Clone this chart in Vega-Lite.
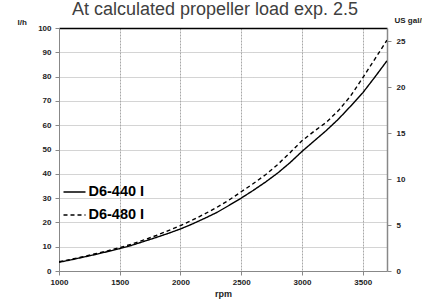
{
  "$schema": "https://vega.github.io/schema/vega-lite/v6.json",
  "width": 328,
  "height": 243,
  "autosize": {"type": "none"},
  "padding": {"left": 59, "top": 28, "right": 35, "bottom": 31},
  "background": "white",
  "config": {
    "view": {"stroke": null},
    "font": "Liberation Sans"
  },
  "title": {
    "text": "At calculated propeller load exp. 2.5",
    "fontSize": 18,
    "font": "Liberation Sans",
    "fontWeight": "normal",
    "color": "#404040",
    "anchor": "middle",
    "frame": "group",
    "baseline": "alphabetic",
    "offset": 0,
    "dy": 17,
    "dx": -8
  },
  "data": {
    "values": [
      {"engine": "D6-440 I", "rpm": 1000, "lph": 3.6},
      {"engine": "D6-440 I", "rpm": 1100, "lph": 4.6},
      {"engine": "D6-440 I", "rpm": 1200, "lph": 5.7},
      {"engine": "D6-440 I", "rpm": 1300, "lph": 6.8},
      {"engine": "D6-440 I", "rpm": 1400, "lph": 8.0},
      {"engine": "D6-440 I", "rpm": 1500, "lph": 9.2},
      {"engine": "D6-440 I", "rpm": 1600, "lph": 10.6},
      {"engine": "D6-440 I", "rpm": 1700, "lph": 12.2},
      {"engine": "D6-440 I", "rpm": 1800, "lph": 13.8},
      {"engine": "D6-440 I", "rpm": 1900, "lph": 15.5},
      {"engine": "D6-440 I", "rpm": 2000, "lph": 17.3},
      {"engine": "D6-440 I", "rpm": 2100, "lph": 19.4},
      {"engine": "D6-440 I", "rpm": 2200, "lph": 21.7},
      {"engine": "D6-440 I", "rpm": 2300, "lph": 24.1},
      {"engine": "D6-440 I", "rpm": 2400, "lph": 27.0},
      {"engine": "D6-440 I", "rpm": 2500, "lph": 30.0},
      {"engine": "D6-440 I", "rpm": 2600, "lph": 33.2},
      {"engine": "D6-440 I", "rpm": 2700, "lph": 36.6},
      {"engine": "D6-440 I", "rpm": 2800, "lph": 40.3},
      {"engine": "D6-440 I", "rpm": 2900, "lph": 44.5},
      {"engine": "D6-440 I", "rpm": 3000, "lph": 49.2},
      {"engine": "D6-440 I", "rpm": 3100, "lph": 53.5},
      {"engine": "D6-440 I", "rpm": 3200, "lph": 57.8},
      {"engine": "D6-440 I", "rpm": 3300, "lph": 62.5},
      {"engine": "D6-440 I", "rpm": 3400, "lph": 67.8},
      {"engine": "D6-440 I", "rpm": 3500, "lph": 73.3},
      {"engine": "D6-440 I", "rpm": 3600, "lph": 79.8},
      {"engine": "D6-440 I", "rpm": 3700, "lph": 86.5},
      {"engine": "D6-480 I", "rpm": 1000, "lph": 3.8},
      {"engine": "D6-480 I", "rpm": 1100, "lph": 4.8},
      {"engine": "D6-480 I", "rpm": 1200, "lph": 5.9},
      {"engine": "D6-480 I", "rpm": 1300, "lph": 7.1},
      {"engine": "D6-480 I", "rpm": 1400, "lph": 8.3},
      {"engine": "D6-480 I", "rpm": 1500, "lph": 9.6},
      {"engine": "D6-480 I", "rpm": 1600, "lph": 11.1},
      {"engine": "D6-480 I", "rpm": 1700, "lph": 12.8},
      {"engine": "D6-480 I", "rpm": 1800, "lph": 14.6},
      {"engine": "D6-480 I", "rpm": 1900, "lph": 16.6},
      {"engine": "D6-480 I", "rpm": 2000, "lph": 18.7},
      {"engine": "D6-480 I", "rpm": 2100, "lph": 21.0},
      {"engine": "D6-480 I", "rpm": 2200, "lph": 23.5},
      {"engine": "D6-480 I", "rpm": 2300, "lph": 26.2},
      {"engine": "D6-480 I", "rpm": 2400, "lph": 29.2},
      {"engine": "D6-480 I", "rpm": 2500, "lph": 32.6},
      {"engine": "D6-480 I", "rpm": 2600, "lph": 36.0},
      {"engine": "D6-480 I", "rpm": 2700, "lph": 39.6},
      {"engine": "D6-480 I", "rpm": 2800, "lph": 43.8},
      {"engine": "D6-480 I", "rpm": 2900, "lph": 48.6},
      {"engine": "D6-480 I", "rpm": 3000, "lph": 53.6},
      {"engine": "D6-480 I", "rpm": 3100, "lph": 57.5},
      {"engine": "D6-480 I", "rpm": 3200, "lph": 61.2},
      {"engine": "D6-480 I", "rpm": 3300, "lph": 66.0},
      {"engine": "D6-480 I", "rpm": 3400, "lph": 72.0},
      {"engine": "D6-480 I", "rpm": 3500, "lph": 79.5},
      {"engine": "D6-480 I", "rpm": 3600, "lph": 87.2},
      {"engine": "D6-480 I", "rpm": 3700, "lph": 95.0}
    ]
  },
  "layer": [
    {
      "mark": {"type": "line", "color": "black", "strokeWidth": 1.4, "clip": true},
      "encoding": {
        "x": {
          "field": "rpm",
          "type": "quantitative",
          "scale": {"domain": [1000, 3700], "nice": false, "zero": false},
          "axis": {
            "title": "rpm",
            "titleFont": "Liberation Sans",
            "titleFontSize": 9,
            "titleFontWeight": "bold",
            "titleColor": "#222",
            "titlePadding": 3,
            "values": [1000, 1500, 2000, 2500, 3000, 3500],
            "format": "d",
            "labelFont": "Liberation Sans",
            "labelFontSize": 8,
            "labelFontWeight": "bold",
            "labelColor": "#222",
            "labelPadding": 3,
            "tickSize": 4,
            "tickColor": "#888",
            "domainColor": "#888",
            "grid": true,
            "gridColor": "#a8a8a8",
            "gridDash": [2, 1],
            "labelFlush": false
          }
        },
        "y": {
          "field": "lph",
          "type": "quantitative",
          "scale": {"domain": [0, 100], "nice": false},
          "axis": {
            "title": "l/h",
            "titleAngle": 0,
            "titleX": -42,
            "titleY": -6,
            "titleAlign": "left",
            "titleBaseline": "middle",
            "titleFont": "Liberation Sans",
            "titleFontSize": 8,
            "titleFontWeight": "bold",
            "titleColor": "#222",
            "values": [0, 10, 20, 30, 40, 50, 60, 70, 80, 90, 100],
            "labelFont": "Liberation Sans",
            "labelFontSize": 8,
            "labelFontWeight": "bold",
            "labelColor": "#222",
            "labelPadding": 4,
            "tickSize": 4,
            "tickColor": "#888",
            "domainColor": "#888",
            "grid": true,
            "gridColor": {"condition": {"test": "datum.value === 100", "value": "#000000"}, "value": "#a8a8a8"},
            "gridDash": {"condition": {"test": "datum.value === 100", "value": [1, 0]}, "value": [1, 1]},
            "gridWidth": {"condition": {"test": "datum.value === 100", "value": 1.3}, "value": 1}
          }
        },
        "strokeDash": {
          "field": "engine",
          "type": "nominal",
          "scale": {"domain": ["D6-440 I", "D6-480 I"], "range": [[1, 0], [4, 3]]},
          "legend": {
            "title": null,
            "orient": "none",
            "legendX": 3.5,
            "legendY": 152,
            "padding": 0,
            "symbolType": "stroke",
            "symbolSize": 484,
            "symbolStrokeWidth": 1.4,
            "symbolStrokeColor": "black",
            "labelFont": "Liberation Sans",
            "labelFontSize": 14.5,
            "labelFontWeight": "bold",
            "labelColor": "black",
            "labelOffset": 2,
            "rowPadding": 4
          }
        }
      }
    },
    {
      "mark": {"type": "line", "opacity": 0},
      "encoding": {
        "x": {"field": "rpm", "type": "quantitative", "scale": {"domain": [1000, 3700], "nice": false, "zero": false}},
        "detail": {"field": "engine"},
        "y": {
          "field": "lph",
          "type": "quantitative",
          "scale": {"domain": [0, 100], "nice": false},
          "axis": {
            "orient": "right",
            "title": "US gal/h",
            "titleAngle": 0,
            "titleX": 7,
            "titleY": -8,
            "titleAlign": "left",
            "titleBaseline": "middle",
            "titleFont": "Liberation Sans",
            "titleFontSize": 8,
            "titleFontWeight": "bold",
            "titleColor": "#222",
            "values": [0, 18.927, 37.854, 56.781, 75.708, 94.635],
            "labelExpr": "format(datum.value / 3.785411784, '.0f')",
            "labelFont": "Liberation Sans",
            "labelFontSize": 8,
            "labelFontWeight": "bold",
            "labelColor": "#222",
            "labelPadding": 5,
            "tickSize": 4,
            "tickColor": "#888",
            "domainColor": "#888",
            "domainWidth": 1.5,
            "grid": false
          }
        }
      }
    }
  ],
  "resolve": {"scale": {"y": "independent"}}
}
